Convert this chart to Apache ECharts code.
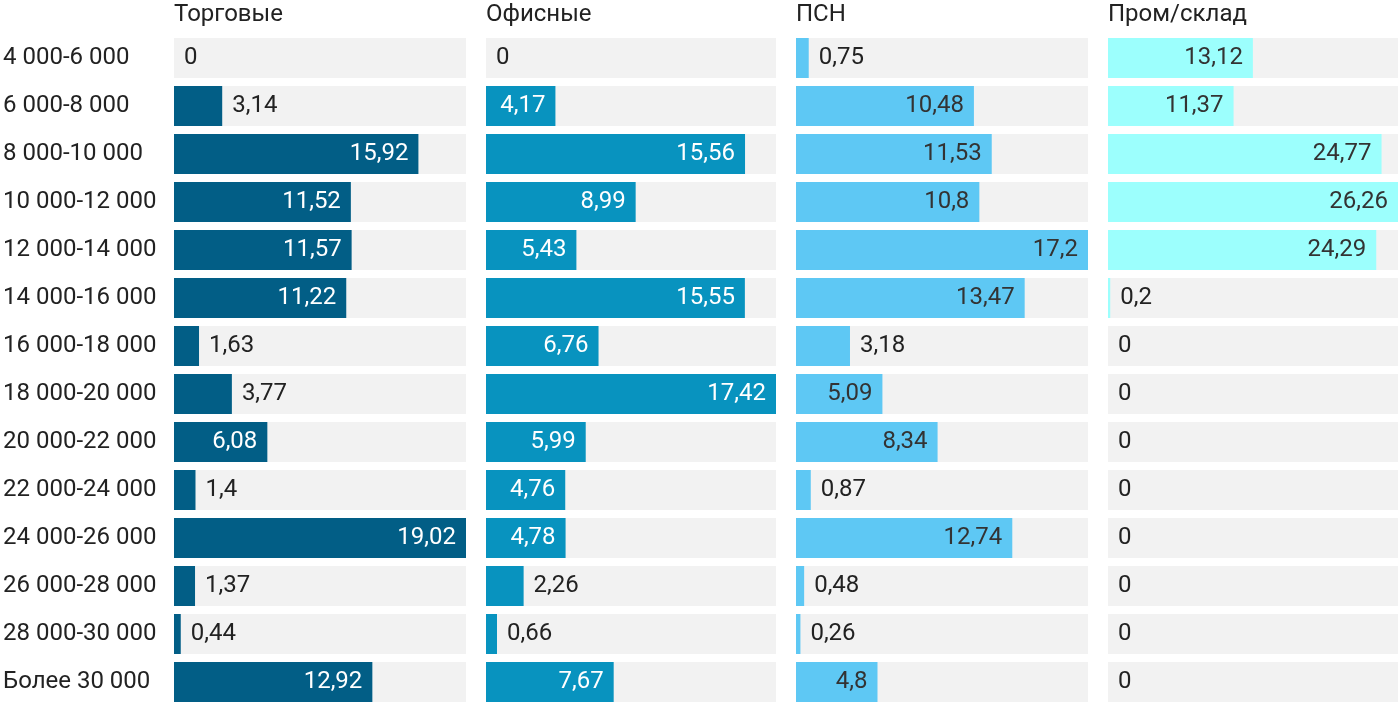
<!DOCTYPE html>
<html><head><meta charset="utf-8">
<script src="https://cdn.jsdelivr.net/npm/echarts@6/dist/echarts.min.js"></script>
<style>html,body{margin:0;padding:0;background:#fff}#c{width:1400px;height:718px}</style>
</head><body><div id="c"></div>
<script>
const categories = ['4 000-6 000','6 000-8 000','8 000-10 000','10 000-12 000','12 000-14 000','14 000-16 000','16 000-18 000','18 000-20 000','20 000-22 000','22 000-24 000','24 000-26 000','26 000-28 000','28 000-30 000','Более 30 000'];
const seriesNames = ['Торговые','Офисные','ПСН','Пром/склад'];
const torgovye = [0,3.14,15.92,11.52,11.57,11.22,1.63,3.77,6.08,1.4,19.02,1.37,0.44,12.92];
const ofisnye = [0,4.17,15.56,8.99,5.43,15.55,6.76,17.42,5.99,4.76,4.78,2.26,0.66,7.67];
const psn = [0.75,10.48,11.53,10.8,17.2,13.47,3.18,5.09,8.34,0.87,12.74,0.48,0.26,4.8];
const promsklad = [13.12,11.37,24.77,26.26,24.29,0.2,0,0,0,0,0,0,0,0];

const allData = [torgovye, ofisnye, psn, promsklad];
const colors = ['#025e86','#0893bf','#5ec8f4','#9cfffd'];
const insideText = ['#ffffff','#ffffff','#333333','#333333'];
const lefts = [174, 486, 796, 1108];
const widths = [292, 290, 292, 290];
const FONT = 'Roboto';
const FS = 24;

const grids = [], xAxes = [], yAxes = [], series = [], titles = [];
allData.forEach((arr, i) => {
  const max = Math.max(...arr);
  grids.push({left: lefts[i], width: widths[i], top: 34, height: 672});
  xAxes.push({type:'value', gridIndex:i, min:0, max:max, show:false});
  yAxes.push({type:'category', gridIndex:i, data:categories, inverse:true,
    axisLine:{show:false}, axisTick:{show:false}, splitLine:{show:false},
    axisLabel:{show:i===0, align:'left', margin:171, padding:[4,0,0,0], fontFamily:FONT, fontSize:FS, color:'#222'}});
  titles.push({text: seriesNames[i], left: lefts[i], top: 3, padding: 0,
    textStyle:{fontFamily:FONT, fontSize:FS, fontWeight:'normal', color:'#222'}});
  series.push({
    type:'bar', name: seriesNames[i], xAxisIndex:i, yAxisIndex:i, barWidth:40,
    showBackground:true, backgroundStyle:{color:'#f2f2f2'},
    itemStyle:{color:colors[i]},
    data: arr.map(v => {
      const px = v / max * widths[i];
      const inside = px > 60;
      return {value: v, label: {show:true, position: inside ? 'insideRight' : 'right',
        distance: 10, color: inside ? insideText[i] : '#222'}};
    }),
    label:{fontFamily:FONT, fontSize:FS, padding:[4,0,0,0], formatter: p => String(p.value).replace('.', ',')}
  });
});

const chart = echarts.init(document.getElementById('c'));
chart.setOption({animation:false, title:titles, grid:grids, xAxis:xAxes, yAxis:yAxes, series:series});
</script></body></html>
